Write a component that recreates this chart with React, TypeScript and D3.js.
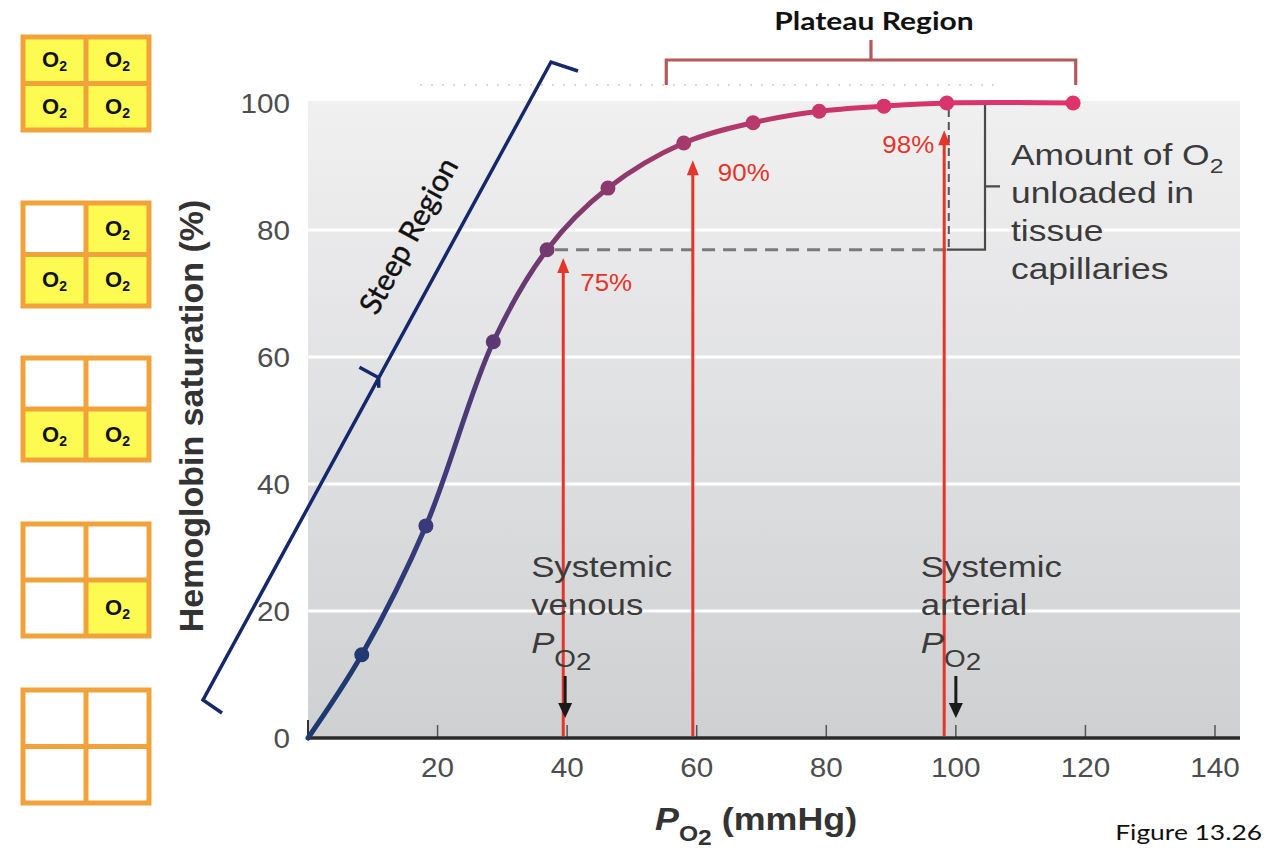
import * as d3 from 'd3';

// oxygen-hemoglobin dissociation curve
const PO2 = [0, 8.3, 18.2, 28.6, 36.9, 46.3, 58, 68.7, 78.9, 88.9, 98.6, 118.1];
const SATURATION = [0, 13.1, 33.4, 62.4, 76.9, 86.6, 93.7, 96.9, 98.7, 99.5, 100, 100];
const X_TICKS = [20, 40, 60, 80, 100, 120, 140];
const Y_TICKS = [0, 20, 40, 60, 80, 100];
const GRID = [20, 40, 60, 80];

// red arrows: where they stand, how high they reach, their label
const ARROW_PO2 = [39.4, 59.4, 98.2];
const ARROW_TIP = [75.6, 91, 95.7];
const ARROW_LABELS = ['75%', '90%', '98%'];

const VENOUS_PO2 = 40;
const ARTERIAL_PO2 = 100;
const VENOUS_IDX = 4;
const ARTERIAL_IDX = 10;

// O2 bound per hemoglobin (4 sites), top to bottom
const O2_BOUND = [4, 3, 2, 1, 0];

const HELV = '"Liberation Sans", Arial, Helvetica, sans-serif';
const CALI = 'Lato, "Open Sans", sans-serif';
const RED = '#e5342a';
const GREY_TXT = '#3b3b3b';

const xs = d3.scaleLinear().domain([0, 140]).range([308, 1215]);
const ys = d3.scaleLinear().domain([0, 100]).range([738, 103]);

function SText({ x, y, sx = 1.16, children, ...rest }: any) {
  return (
    <text transform={`translate(${x},${y}) scale(${sx},1)`} {...rest}>
      {children}
    </text>
  );
}

function Hemoglobin({ top, h, bound }: { top: number; h: number; bound: number }) {
  const x0 = 23, x1 = 149, xm = 86;
  const ym = top + h / 2;
  // binding fills bottom-right first, then bottom-left, top-right, top-left
  const cells = [
    { x: xm, y: ym, w: x1 - xm, h: top + h - ym },
    { x: x0, y: ym, w: xm - x0, h: top + h - ym },
    { x: xm, y: top, w: x1 - xm, h: ym - top },
    { x: x0, y: top, w: xm - x0, h: ym - top },
  ].slice(0, bound);
  const orange = '#f2a23a';
  return (
    <g>
      {cells.map((c, i) => (
        <g key={i}>
          <rect x={c.x} y={c.y} width={c.w} height={c.h} fill="#fdfb52" />
          <text x={c.x + c.w / 2} y={c.y + c.h / 2 + 7} textAnchor="middle"
            fontFamily={HELV} fontWeight="bold" fontSize={22} fill="#111">
            O<tspan fontSize={14} dy={4}>2</tspan>
          </text>
        </g>
      ))}
      <rect x={x0} y={top} width={x1 - x0} height={h} fill="none" stroke={orange} strokeWidth={5} />
      <line x1={xm} x2={xm} y1={top} y2={top + h} stroke={orange} strokeWidth={5} />
      <line x1={x0} x2={x1} y1={ym} y2={ym} stroke={orange} strokeWidth={5} />
    </g>
  );
}

function DownArrow({ x, y0, y1 }: { x: number; y0: number; y1: number }) {
  return (
    <g>
      <line x1={x} x2={x} y1={y0} y2={y1 - 12} stroke="#1a1a1a" strokeWidth={3} />
      <path d={`M${x - 7},${y1 - 15}L${x + 7},${y1 - 15}L${x},${y1}Z`} fill="#1a1a1a" />
    </g>
  );
}

export default function App() {
  const pts = PO2.map((p, i) => [xs(p), ys(SATURATION[i])] as [number, number]);
  const curve = d3.line().curve(d3.curveCatmullRom.alpha(0.5))(pts) as string;
  const plotL = xs(0), plotR = 1240, plotT = 101, plotB = ys(0);

  const boxTop = [37, 203, 358, 524, 690];
  const boxH = [93, 103, 102, 112, 113];

  const labelOff = [
    { dx: 17, dy: 33, anchor: 'start' },
    { dx: 25, dy: 21, anchor: 'start' },
    { dx: -10, dy: 23, anchor: 'end' },
  ];

  const yLow = ys(SATURATION[VENOUS_IDX]);
  const yHigh = ys(SATURATION[ARTERIAL_IDX]);
  const xArt = xs(PO2[ARTERIAL_IDX]);
  const brX = xs(104.5);

  // steep-region bracket (left of the plot)
  const sTop = [551, 62], sBot = [203, 700];
  const dir = [sTop[0] - sBot[0], sTop[1] - sBot[1]];
  const len = Math.hypot(dir[0], dir[1]);
  const u = [dir[0] / len, dir[1] / len];
  const ang = (Math.atan2(u[1], u[0]) * 180) / Math.PI;
  const midPt = [sBot[0] + dir[0] * 0.505, sBot[1] + dir[1] * 0.505];
  const perpOut = [u[1], -u[0]]; // points up-left, away from the curve

  const platL = xs(55.3), platR = xs(118.5), platM = (platL + platR) / 2;

  return (
    <svg width={1288} height={866} style={{ position: 'absolute', left: 0, top: 0, background: '#fff' }}>
      <defs>
        <linearGradient id="bg" x1="0" y1="0" x2="0" y2="1">
          <stop offset="0" stopColor="#f0f0f1" />
          <stop offset="1" stopColor="#cfd0d2" />
        </linearGradient>
        <linearGradient id="curve" gradientUnits="userSpaceOnUse" x1={xs(0)} y1={0} x2={xs(118.1)} y2={0}>
          <stop offset="0" stopColor="#1b3a6e" />
          <stop offset="0.08" stopColor="#223a72" />
          <stop offset="0.16" stopColor="#3b3a7a" />
          <stop offset="0.24" stopColor="#5b3975" />
          <stop offset="0.31" stopColor="#733a6f" />
          <stop offset="0.39" stopColor="#8a3a6c" />
          <stop offset="0.49" stopColor="#a5396b" />
          <stop offset="0.58" stopColor="#b8386a" />
          <stop offset="0.67" stopColor="#c8366a" />
          <stop offset="0.75" stopColor="#d5356b" />
          <stop offset="1" stopColor="#e0336b" />
        </linearGradient>
      </defs>

      {/* plot background and grid */}
      <rect x={plotL} y={plotT} width={plotR - plotL} height={plotB - plotT} fill="url(#bg)" />
      {GRID.map(g => (
        <line key={g} x1={plotL} x2={plotR} y1={ys(g)} y2={ys(g)} stroke="#fff" strokeWidth={3} />
      ))}
      <line x1={420} x2={1000} y1={85} y2={85} stroke="#d9d9d9" strokeWidth={2} strokeDasharray="2 9" />

      {/* axes */}
      {X_TICKS.map(t => (
        <line key={t} x1={xs(t)} x2={xs(t)} y1={plotB - 13} y2={plotB} stroke="#555" strokeWidth={1.5} />
      ))}
      <line x1={plotL} x2={plotL} y1={plotB - 18} y2={plotB} stroke="#333" strokeWidth={2} />
      <line x1={plotL - 1} x2={plotR} y1={plotB} y2={plotB} stroke="#2b2b2b" strokeWidth={3.5} />
      {X_TICKS.map(t => (
        <SText key={t} x={xs(t)} y={777} sx={1.06} textAnchor="middle" fontFamily={HELV} fontSize={28} fill="#4d4d4d">
          {t}
        </SText>
      ))}
      {Y_TICKS.map(t => (
        <SText key={t} x={290} y={ys(t) + 10} sx={1.06} textAnchor="end" fontFamily={HELV} fontSize={28} fill="#4d4d4d">
          {t}
        </SText>
      ))}

      {/* axis titles */}
      <text transform="translate(203,416) rotate(-90)" textAnchor="middle" fontFamily={HELV}
        fontWeight="bold" fontSize={34} fill="#333">
        Hemoglobin saturation (%)
      </text>
      <SText x={655} y={830} sx={1.12} fontFamily={HELV} fontWeight="bold" fontSize={32} fill="#333">
        <tspan fontStyle="italic">P</tspan>
        <tspan fontSize={22} dy={11}>O</tspan>
        <tspan fontSize={22} dy={4}>2</tspan>
        <tspan fontSize={32} dy={-15}> (mmHg)</tspan>
      </SText>

      {/* unloaded amount: dashed guides and bracket */}
      <line x1={pts[VENOUS_IDX][0] + 8} x2={xArt} y1={yLow} y2={yLow} stroke="#7a7a7a" strokeWidth={3} strokeDasharray="13 8" />
      <line x1={xArt + 2} x2={xArt + 2} y1={yHigh + 6} y2={yLow} stroke="#555" strokeWidth={2} strokeDasharray="8 5" />
      <path d={`M${xArt},${yHigh}H${brX}V${yLow}H${xArt}M${brX},${(yHigh + yLow) / 2 + 10}h15`}
        fill="none" stroke="#4a4a4a" strokeWidth={2.2} />

      {/* red arrows */}
      {ARROW_PO2.map((p, i) => {
        const x = xs(p), yt = ys(ARROW_TIP[i]);
        const o = labelOff[i];
        return (
          <g key={i}>
            <line x1={x} x2={x} y1={plotB - 2} y2={yt + 10} stroke={RED} strokeWidth={3} />
            <path d={`M${x - 6},${yt + 15}L${x + 6},${yt + 15}L${x},${yt}Z`} fill={RED} />
            <SText x={x + o.dx} y={yt + o.dy} sx={1.08} textAnchor={o.anchor} fontFamily={HELV} fontSize={24} fill={RED}>
              {ARROW_LABELS[i]}
            </SText>
          </g>
        );
      })}

      {/* curve */}
      <path d={curve} fill="none" stroke="url(#curve)" strokeWidth={5} strokeLinecap="round" />
      {pts.slice(1).map((p, i) => (
        <circle key={i} cx={p[0]} cy={p[1]} r={7.5} fill="url(#curve)" />
      ))}

      {/* systemic labels */}
      {[
        { x: xs(VENOUS_PO2) - 36, words: ['Systemic', 'venous'], ax: xs(VENOUS_PO2) - 2 },
        { x: xs(ARTERIAL_PO2) - 35, words: ['Systemic', 'arterial'], ax: xs(ARTERIAL_PO2) },
      ].map((s, i) => (
        <g key={i}>
          <SText x={s.x} y={577} fontFamily={HELV} fontSize={30} fill={GREY_TXT}>{s.words[0]}</SText>
          <SText x={s.x} y={615} fontFamily={HELV} fontSize={30} fill={GREY_TXT}>{s.words[1]}</SText>
          <SText x={s.x} y={653} fontFamily={HELV} fontSize={30} fill={GREY_TXT}>
            <tspan fontStyle="italic">P</tspan>
            <tspan fontSize={24} dy={14}>O</tspan>
            <tspan fontSize={24} dy={3}>2</tspan>
          </SText>
          <DownArrow x={s.ax} y0={676} y1={718} />
        </g>
      ))}

      {/* amount unloaded text */}
      {['unloaded in', 'tissue', 'capillaries'].map((w, i) => (
        <SText key={w} x={1011} y={203 + i * 38} sx={1.18} fontFamily={HELV} fontSize={30} fill={GREY_TXT}>{w}</SText>
      ))}
      <SText x={1011} y={165} sx={1.18} fontFamily={HELV} fontSize={30} fill={GREY_TXT}>
        Amount of O<tspan fontSize={21} dy={8}>2</tspan>
      </SText>

      {/* plateau bracket */}
      <path d={`M${platL},85V60H${platR}V85M${platM},60V40`} fill="none" stroke="#b35a5b" strokeWidth={3.2} />
      <SText x={platM + 3} y={30} sx={1.2} textAnchor="middle" fontFamily={CALI} fontWeight="bold" fontSize={25} fill="#111">
        Plateau Region
      </SText>

      {/* steep bracket */}
      <path
        d={`M578,71L${sTop[0]},${sTop[1]}L${sBot[0]},${sBot[1]}L222,713M${midPt[0]},${midPt[1]}l${perpOut[0] * 22},${perpOut[1] * 22}M${midPt[0]},${midPt[1]}v10`}
        fill="none" stroke="#14286b" strokeWidth={3.5} strokeLinejoin="miter" />
      <text transform={`translate(409,236) rotate(${ang})`} textAnchor="middle" y={10}
        fontFamily={CALI} fontSize={30} fill="#111" stroke="#111" strokeWidth={0.4}>
        Steep Region
      </text>

      {/* hemoglobin O2 occupancy boxes */}
      {O2_BOUND.map((b, i) => (
        <Hemoglobin key={i} top={boxTop[i]} h={boxH[i]} bound={b} />
      ))}

      <SText x={1262} y={840} sx={1.2} textAnchor="end" fontFamily={CALI} fontSize={22} fill="#111">
        Figure 13.26
      </SText>
    </svg>
  );
}
